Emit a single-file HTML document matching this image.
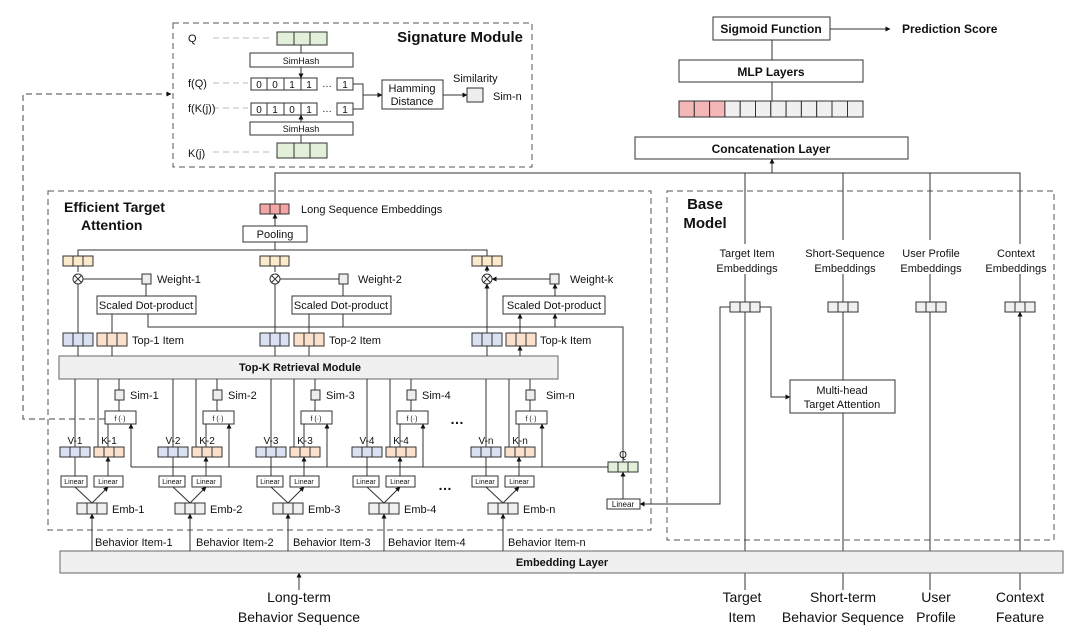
<!DOCTYPE html>
<html><head><meta charset="utf-8"><style>
html,body{margin:0;padding:0;background:#fff}
svg{display:block}
text{font-family:"Liberation Sans",sans-serif;fill:#111}
.b{font-weight:bold}
</style></head><body>
<svg width="1080" height="632" viewBox="0 0 1080 632" xmlns="http://www.w3.org/2000/svg">
<defs>
<marker id="a" viewBox="0 0 10 10" refX="9" refY="5" markerWidth="5" markerHeight="5" orient="auto"><path d="M0,0L10,5L0,10z" fill="#111"/></marker>
</defs>
<g stroke="#333" stroke-width="1" fill="none">
<rect x="173" y="23" width="359" height="144" stroke-dasharray="6,4" stroke="#555"/>
<rect x="48" y="191" width="603" height="339" stroke-dasharray="6,4" stroke="#555"/>
<rect x="667" y="191" width="387" height="349" stroke-dasharray="6,4" stroke="#555"/>
<path d="M105,419H23V94H171" stroke-dasharray="6,4" stroke="#444" marker-end="url(#a)"/>
<path d="M213,38H273M213,83H248M213,108H248M213,152H273" stroke="#bbb" stroke-dasharray="6,4"/>
</g>
<g stroke="#333" stroke-width="1">
<rect x="277" y="32" width="17" height="13" fill="#e2efd9"/><rect x="294" y="32" width="16" height="13" fill="#e2efd9"/><rect x="310" y="32" width="17" height="13" fill="#e2efd9"/>
<rect x="277" y="143" width="17" height="15" fill="#e2efd9"/><rect x="294" y="143" width="16" height="15" fill="#e2efd9"/><rect x="310" y="143" width="17" height="15" fill="#e2efd9"/>
<rect x="250" y="53" width="103" height="14" fill="#fff"/>
<rect x="250" y="122" width="103" height="13" fill="#fff"/>
<g fill="#fff">
<rect x="251" y="78" width="16" height="12"/><rect x="267" y="78" width="17" height="12"/><rect x="284" y="78" width="17" height="12"/><rect x="301" y="78" width="16" height="12"/><rect x="337" y="78" width="16" height="12"/>
<rect x="251" y="103" width="16" height="12"/><rect x="267" y="103" width="17" height="12"/><rect x="284" y="103" width="17" height="12"/><rect x="301" y="103" width="16" height="12"/><rect x="337" y="103" width="16" height="12"/>
<rect x="382" y="80" width="61" height="29"/>
</g>
<rect x="467" y="88" width="16" height="14" fill="#eee"/>
<g fill="none">
<path d="M301,45V53M301,67V78" marker-end="url(#a)"/>
<path d="M301,143V135M301,122V115" marker-end="url(#a)"/>
<path d="M353,84H363V109H353M363,95H382" marker-end="url(#a)"/>
<path d="M443,95H467" marker-end="url(#a)"/>
</g>
</g>
<g font-size="10">
<text x="301" y="64" text-anchor="middle" font-size="9">SimHash</text>
<text x="301" y="132" text-anchor="middle" font-size="9">SimHash</text>
<text x="259" y="88" text-anchor="middle">0</text><text x="275" y="88" text-anchor="middle">0</text><text x="292" y="88" text-anchor="middle">1</text><text x="309" y="88" text-anchor="middle">1</text><text x="327" y="87" text-anchor="middle">…</text><text x="345" y="88" text-anchor="middle">1</text>
<text x="259" y="113" text-anchor="middle">0</text><text x="275" y="113" text-anchor="middle">1</text><text x="292" y="113" text-anchor="middle">0</text><text x="309" y="113" text-anchor="middle">1</text><text x="327" y="112" text-anchor="middle">…</text><text x="345" y="113" text-anchor="middle">1</text>
</g>
<g font-size="11">
<text x="188" y="42">Q</text><text x="188" y="87">f(Q)</text><text x="188" y="112">f(K(j))</text><text x="188" y="157">K(j)</text>
<text x="412" y="92" text-anchor="middle">Hamming</text><text x="412" y="105" text-anchor="middle">Distance</text>
<text x="453" y="82">Similarity</text><text x="493" y="100">Sim-n</text>
</g>
<text x="523" y="42" text-anchor="end" class="b" font-size="15">Signature Module</text>

<g stroke="#333" fill="#fff">
<rect x="713" y="17" width="117" height="23"/>
<rect x="679" y="60" width="184" height="22"/>
<rect x="635" y="137" width="273" height="22"/>
</g>
<g stroke="#333">
<rect x="679" y="101" width="15.3" height="16" fill="#f4b6b6"/><rect x="694.3" y="101" width="15.3" height="16" fill="#f4b6b6"/><rect x="709.6" y="101" width="15.3" height="16" fill="#f4b6b6"/>
<rect x="724.9" y="101" width="15.3" height="16" fill="#f0f0f0"/><rect x="740.2" y="101" width="15.3" height="16" fill="#f0f0f0"/><rect x="755.5" y="101" width="15.3" height="16" fill="#f0f0f0"/><rect x="770.8" y="101" width="15.3" height="16" fill="#f0f0f0"/><rect x="786.1" y="101" width="15.3" height="16" fill="#f0f0f0"/><rect x="801.4" y="101" width="15.3" height="16" fill="#f0f0f0"/><rect x="816.7" y="101" width="15.3" height="16" fill="#f0f0f0"/><rect x="832" y="101" width="15.5" height="16" fill="#f0f0f0"/><rect x="847.5" y="101" width="15.5" height="16" fill="#f0f0f0"/>
</g>
<g stroke="#333" fill="none">
<path d="M772,60V40M772,101V82M772,173V159" marker-end="url(#a)"/>
<path d="M830,29H890" marker-end="url(#a)"/>
<path d="M275,204V173H1020V302M745,173V302M843,173V240M930,173V240"/>
<path d="M843,274V302M930,274V302"/>
</g>
<g class="b" font-size="12">
<text x="771" y="33" text-anchor="middle">Sigmoid Function</text>
<text x="902" y="33">Prediction Score</text>
<text x="771" y="76" text-anchor="middle">MLP Layers</text>
<text x="771" y="153" text-anchor="middle">Concatenation Layer</text>
</g>

<text x="705" y="209" class="b" font-size="15" text-anchor="middle">Base</text>
<text x="705" y="228" class="b" font-size="15" text-anchor="middle">Model</text>
<g font-size="11" text-anchor="middle">
<rect x="710" y="244" width="74" height="30" fill="#fff"/>
<rect x="800" y="244" width="90" height="30" fill="#fff"/>
<rect x="897" y="244" width="70" height="30" fill="#fff"/>
<rect x="985" y="244" width="66" height="30" fill="#fff"/>
<text x="747" y="257">Target Item</text><text x="747" y="272">Embeddings</text>
<text x="845" y="257">Short-Sequence</text><text x="845" y="272">Embeddings</text>
<text x="931" y="257">User Profile</text><text x="931" y="272">Embeddings</text>
<text x="1016" y="257">Context</text><text x="1016" y="272">Embeddings</text>
</g>
<g stroke="#333">
<g fill="#f0f0f0">
<rect x="730" y="302" width="10" height="10"/><rect x="740" y="302" width="10" height="10"/><rect x="750" y="302" width="10" height="10"/>
<rect x="828" y="302" width="10" height="10"/><rect x="838" y="302" width="10" height="10"/><rect x="848" y="302" width="10" height="10"/>
<rect x="916" y="302" width="10" height="10"/><rect x="926" y="302" width="10" height="10"/><rect x="936" y="302" width="10" height="10"/>
<rect x="1005" y="302" width="10" height="10"/><rect x="1015" y="302" width="10" height="10"/><rect x="1025" y="302" width="10" height="10"/>
</g>
<rect x="790" y="380" width="105" height="33" fill="#fff"/>
</g>
<g stroke="#333" fill="none">
<path d="M745,551V312M843,551V413M843,380V312M930,551V312M1020,551V312" marker-end="url(#a)"/>
<path d="M760,307H771V397H790" marker-end="url(#a)"/>
<path d="M730,307H720V504H640" marker-end="url(#a)"/>
<path d="M745,590V573M843,590V573M930,590V573M1020,590V573M299,590V573" marker-end="url(#a)"/>
</g>
<text x="842" y="394" font-size="11" text-anchor="middle">Multi-head</text>
<text x="842" y="408" font-size="11" text-anchor="middle">Target Attention</text>

<rect x="60" y="551" width="1003" height="22" fill="#f0f0f0" stroke="#666"/>
<text x="562" y="566" class="b" font-size="11" text-anchor="middle">Embedding Layer</text>
<g font-size="14" text-anchor="middle">
<text x="299" y="602">Long-term</text><text x="299" y="622">Behavior Sequence</text>
<text x="742" y="602">Target</text><text x="742" y="622">Item</text>
<text x="843" y="602">Short-term</text><text x="843" y="622">Behavior Sequence</text>
<text x="936" y="602">User</text><text x="936" y="622">Profile</text>
<text x="1020" y="602">Context</text><text x="1020" y="622">Feature</text>
</g>

<text x="64" y="212" class="b" font-size="14">Efficient Target</text>
<text x="81" y="230" class="b" font-size="14">Attention</text>
<g stroke="#333">
<rect x="260" y="204" width="10" height="10" fill="#f4a6a6"/><rect x="270" y="204" width="10" height="10" fill="#f4a6a6"/><rect x="280" y="204" width="9" height="10" fill="#f4a6a6"/>
<rect x="243" y="226" width="64" height="16" fill="#fff"/>
<g fill="#fbeacb">
<rect x="63" y="256" width="10" height="10"/><rect x="73" y="256" width="10" height="10"/><rect x="83" y="256" width="10" height="10"/>
<rect x="260" y="256" width="10" height="10"/><rect x="270" y="256" width="10" height="10"/><rect x="280" y="256" width="9" height="10"/>
<rect x="472" y="256" width="10" height="10"/><rect x="482" y="256" width="10" height="10"/><rect x="492" y="256" width="10" height="10"/>
</g>
<g fill="#eee"><rect x="142" y="274" width="9" height="10"/><rect x="339" y="274" width="9" height="10"/><rect x="550" y="274" width="9" height="10"/></g>
<g fill="#fff"><rect x="97" y="296" width="99" height="18"/><rect x="292" y="296" width="99" height="18"/><rect x="503" y="296" width="102" height="18"/></g>
<g fill="#d9e1f2">
<rect x="63" y="333" width="10" height="13"/><rect x="73" y="333" width="10" height="13"/><rect x="83" y="333" width="10" height="13"/>
<rect x="260" y="333" width="10" height="13"/><rect x="270" y="333" width="10" height="13"/><rect x="280" y="333" width="9" height="13"/>
<rect x="472" y="333" width="10" height="13"/><rect x="482" y="333" width="10" height="13"/><rect x="492" y="333" width="10" height="13"/>
</g>
<g fill="#fbe0cc">
<rect x="97" y="333" width="10" height="13"/><rect x="107" y="333" width="10" height="13"/><rect x="117" y="333" width="10" height="13"/>
<rect x="294" y="333" width="10" height="13"/><rect x="304" y="333" width="10" height="13"/><rect x="314" y="333" width="10" height="13"/>
<rect x="506" y="333" width="10" height="13"/><rect x="516" y="333" width="10" height="13"/><rect x="526" y="333" width="10" height="13"/>
</g>
<rect x="59" y="356" width="499" height="23" fill="#f0f0f0" stroke="#666"/>
</g>
<g fill="none" stroke="#333">
<path d="M78,256V250H487V256M275,250V242"/>
<path d="M275,226V214" marker-end="url(#a)"/>
<path d="M78,272V266M275,272V266M487,272V266" marker-end="url(#a)"/>
<circle cx="78" cy="279" r="5"/><circle cx="275" cy="279" r="5"/><circle cx="487" cy="279" r="5"/>
<path d="M74.5,275.5l7,7M81.5,275.5l-7,7M271.5,275.5l7,7M278.5,275.5l-7,7M483.5,275.5l7,7M490.5,275.5l-7,7"/>
<path d="M142,279H83M339,279H280M550,279H492" marker-end="url(#a)"/>
<path d="M146,296V284M343,296V284M555,296V284" marker-end="url(#a)"/>
<path d="M78,333V284M275,333V284M487,333V284" marker-end="url(#a)"/>
<path d="M112,333V314M309,333V314M520,333V314" marker-end="url(#a)"/>
<path d="M148,314V327H623V462"/>
<path d="M343,327V314M555,327V314" marker-end="url(#a)"/>
<path d="M78,356V346M112,356V346M275,356V346M309,356V346M487,356V346M520,356V346" marker-end="url(#a)"/>
</g>
<g font-size="11">
<text x="275" y="238" text-anchor="middle">Pooling</text>
<text x="301" y="213">Long Sequence Embeddings</text>
<text x="157" y="283">Weight-1</text><text x="358" y="283">Weight-2</text><text x="570" y="283">Weight-k</text>
<text x="146" y="309" text-anchor="middle">Scaled Dot-product</text>
<text x="341" y="309" text-anchor="middle">Scaled Dot-product</text>
<text x="554" y="309" text-anchor="middle">Scaled Dot-product</text>
<text x="132" y="344">Top-1 Item</text><text x="329" y="344">Top-2 Item</text><text x="540" y="344">Top-k Item</text>
</g>
<text x="300" y="371" class="b" font-size="11" text-anchor="middle">Top-K Retrieval Module</text>

<g>
<g stroke="#333">
<rect x="115" y="390" width="9" height="10" fill="#eee"/>
<rect x="105" y="411" width="31" height="13" fill="#fff"/>
<g fill="#d9e1f2"><rect x="60" y="447" width="10" height="10"/><rect x="70" y="447" width="10" height="10"/><rect x="80" y="447" width="10" height="10"/></g>
<g fill="#fbe0cc"><rect x="94" y="447" width="10" height="10"/><rect x="104" y="447" width="10" height="10"/><rect x="114" y="447" width="10" height="10"/></g>
<rect x="61" y="476" width="26" height="11" fill="#fff"/><rect x="94" y="476" width="29" height="11" fill="#fff"/>
<g fill="#f0f0f0"><rect x="77" y="503" width="10" height="11"/><rect x="87" y="503" width="10" height="11"/><rect x="97" y="503" width="10" height="11"/></g>
</g>
<g fill="none" stroke="#333">
<path d="M75,447V379M98,447V379M119,390V379M119,411V400M108,447V424M131,467V424" marker-end="url(#a)"/>
<path d="M75,476V457M108,476V457" marker-end="url(#a)"/>
<path d="M92,503L75,487M92,503L108,487" marker-end="url(#a)"/>
<path d="M92,551V514" marker-end="url(#a)"/>
</g>
<g font-size="10"><text x="75" y="444" text-anchor="middle">V-1</text><text x="109" y="444" text-anchor="middle">K-1</text></g>
<g font-size="11"><text x="130" y="399">Sim-1</text><text x="112" y="513">Emb-1</text><text x="95" y="546">Behavior Item-1</text></g>
<g font-size="7" text-anchor="middle"><text x="120" y="421">f (·)</text><text x="74" y="484">Linear</text><text x="108" y="484">Linear</text></g>
</g>
<g transform="translate(98,0)">
<g stroke="#333">
<rect x="115" y="390" width="9" height="10" fill="#eee"/>
<rect x="105" y="411" width="31" height="13" fill="#fff"/>
<g fill="#d9e1f2"><rect x="60" y="447" width="10" height="10"/><rect x="70" y="447" width="10" height="10"/><rect x="80" y="447" width="10" height="10"/></g>
<g fill="#fbe0cc"><rect x="94" y="447" width="10" height="10"/><rect x="104" y="447" width="10" height="10"/><rect x="114" y="447" width="10" height="10"/></g>
<rect x="61" y="476" width="26" height="11" fill="#fff"/><rect x="94" y="476" width="29" height="11" fill="#fff"/>
<g fill="#f0f0f0"><rect x="77" y="503" width="10" height="11"/><rect x="87" y="503" width="10" height="11"/><rect x="97" y="503" width="10" height="11"/></g>
</g>
<g fill="none" stroke="#333">
<path d="M75,447V379M98,447V379M119,390V379M119,411V400M108,447V424M131,467V424" marker-end="url(#a)"/>
<path d="M75,476V457M108,476V457" marker-end="url(#a)"/>
<path d="M92,503L75,487M92,503L108,487" marker-end="url(#a)"/>
<path d="M92,551V514" marker-end="url(#a)"/>
</g>
<g font-size="10"><text x="75" y="444" text-anchor="middle">V-2</text><text x="109" y="444" text-anchor="middle">K-2</text></g>
<g font-size="11"><text x="130" y="399">Sim-2</text><text x="112" y="513">Emb-2</text><text x="98" y="546">Behavior Item-2</text></g>
<g font-size="7" text-anchor="middle"><text x="120" y="421">f (·)</text><text x="74" y="484">Linear</text><text x="108" y="484">Linear</text></g>
</g>
<g transform="translate(196,0)">
<g stroke="#333">
<rect x="115" y="390" width="9" height="10" fill="#eee"/>
<rect x="105" y="411" width="31" height="13" fill="#fff"/>
<g fill="#d9e1f2"><rect x="60" y="447" width="10" height="10"/><rect x="70" y="447" width="10" height="10"/><rect x="80" y="447" width="10" height="10"/></g>
<g fill="#fbe0cc"><rect x="94" y="447" width="10" height="10"/><rect x="104" y="447" width="10" height="10"/><rect x="114" y="447" width="10" height="10"/></g>
<rect x="61" y="476" width="26" height="11" fill="#fff"/><rect x="94" y="476" width="29" height="11" fill="#fff"/>
<g fill="#f0f0f0"><rect x="77" y="503" width="10" height="11"/><rect x="87" y="503" width="10" height="11"/><rect x="97" y="503" width="10" height="11"/></g>
</g>
<g fill="none" stroke="#333">
<path d="M75,447V379M98,447V379M119,390V379M119,411V400M108,447V424M131,467V424" marker-end="url(#a)"/>
<path d="M75,476V457M108,476V457" marker-end="url(#a)"/>
<path d="M92,503L75,487M92,503L108,487" marker-end="url(#a)"/>
<path d="M92,551V514" marker-end="url(#a)"/>
</g>
<g font-size="10"><text x="75" y="444" text-anchor="middle">V-3</text><text x="109" y="444" text-anchor="middle">K-3</text></g>
<g font-size="11"><text x="130" y="399">Sim-3</text><text x="112" y="513">Emb-3</text><text x="97" y="546">Behavior Item-3</text></g>
<g font-size="7" text-anchor="middle"><text x="120" y="421">f (·)</text><text x="74" y="484">Linear</text><text x="108" y="484">Linear</text></g>
</g>
<g transform="translate(292,0)">
<g stroke="#333">
<rect x="115" y="390" width="9" height="10" fill="#eee"/>
<rect x="105" y="411" width="31" height="13" fill="#fff"/>
<g fill="#d9e1f2"><rect x="60" y="447" width="10" height="10"/><rect x="70" y="447" width="10" height="10"/><rect x="80" y="447" width="10" height="10"/></g>
<g fill="#fbe0cc"><rect x="94" y="447" width="10" height="10"/><rect x="104" y="447" width="10" height="10"/><rect x="114" y="447" width="10" height="10"/></g>
<rect x="61" y="476" width="26" height="11" fill="#fff"/><rect x="94" y="476" width="29" height="11" fill="#fff"/>
<g fill="#f0f0f0"><rect x="77" y="503" width="10" height="11"/><rect x="87" y="503" width="10" height="11"/><rect x="97" y="503" width="10" height="11"/></g>
</g>
<g fill="none" stroke="#333">
<path d="M75,447V379M98,447V379M119,390V379M119,411V400M108,447V424M131,467V424" marker-end="url(#a)"/>
<path d="M75,476V457M108,476V457" marker-end="url(#a)"/>
<path d="M92,503L75,487M92,503L108,487" marker-end="url(#a)"/>
<path d="M92,551V514" marker-end="url(#a)"/>
</g>
<g font-size="10"><text x="75" y="444" text-anchor="middle">V-4</text><text x="109" y="444" text-anchor="middle">K-4</text></g>
<g font-size="11"><text x="130" y="399">Sim-4</text><text x="112" y="513">Emb-4</text><text x="96" y="546">Behavior Item-4</text></g>
<g font-size="7" text-anchor="middle"><text x="120" y="421">f (·)</text><text x="74" y="484">Linear</text><text x="108" y="484">Linear</text></g>
</g>
<g transform="translate(411,0)">
<g stroke="#333">
<rect x="115" y="390" width="9" height="10" fill="#eee"/>
<rect x="105" y="411" width="31" height="13" fill="#fff"/>
<g fill="#d9e1f2"><rect x="60" y="447" width="10" height="10"/><rect x="70" y="447" width="10" height="10"/><rect x="80" y="447" width="10" height="10"/></g>
<g fill="#fbe0cc"><rect x="94" y="447" width="10" height="10"/><rect x="104" y="447" width="10" height="10"/><rect x="114" y="447" width="10" height="10"/></g>
<rect x="61" y="476" width="26" height="11" fill="#fff"/><rect x="94" y="476" width="29" height="11" fill="#fff"/>
<g fill="#f0f0f0"><rect x="77" y="503" width="10" height="11"/><rect x="87" y="503" width="10" height="11"/><rect x="97" y="503" width="10" height="11"/></g>
</g>
<g fill="none" stroke="#333">
<path d="M75,447V379M98,447V379M119,390V379M119,411V400M108,447V424M131,467V424" marker-end="url(#a)"/>
<path d="M75,476V457M108,476V457" marker-end="url(#a)"/>
<path d="M92,503L75,487M92,503L108,487" marker-end="url(#a)"/>
<path d="M92,551V514" marker-end="url(#a)"/>
</g>
<g font-size="10"><text x="75" y="444" text-anchor="middle">V-n</text><text x="109" y="444" text-anchor="middle">K-n</text></g>
<g font-size="11"><text x="135" y="399">Sim-n</text><text x="112" y="513">Emb-n</text><text x="97" y="546">Behavior Item-n</text></g>
<g font-size="7" text-anchor="middle"><text x="120" y="421">f (·)</text><text x="74" y="484">Linear</text><text x="108" y="484">Linear</text></g>
</g>
<g stroke="#333" fill="none">
<path d="M131,467H608"/>
<path d="M623,499V472" marker-end="url(#a)"/>
</g>
<g stroke="#333">
<rect x="608" y="462" width="10" height="10" fill="#e2efd9"/><rect x="618" y="462" width="10" height="10" fill="#e2efd9"/><rect x="628" y="462" width="10" height="10" fill="#e2efd9"/>
<rect x="607" y="499" width="33" height="10" fill="#fff"/>
</g>
<text x="623" y="458" font-size="10" text-anchor="middle">Q</text>
<text x="623" y="507" font-size="8" text-anchor="middle">Linear</text>
<text x="457" y="424" font-size="14" text-anchor="middle" class="b">…</text>
<text x="445" y="490" font-size="14" text-anchor="middle" class="b">…</text>
</svg>
</body></html>
